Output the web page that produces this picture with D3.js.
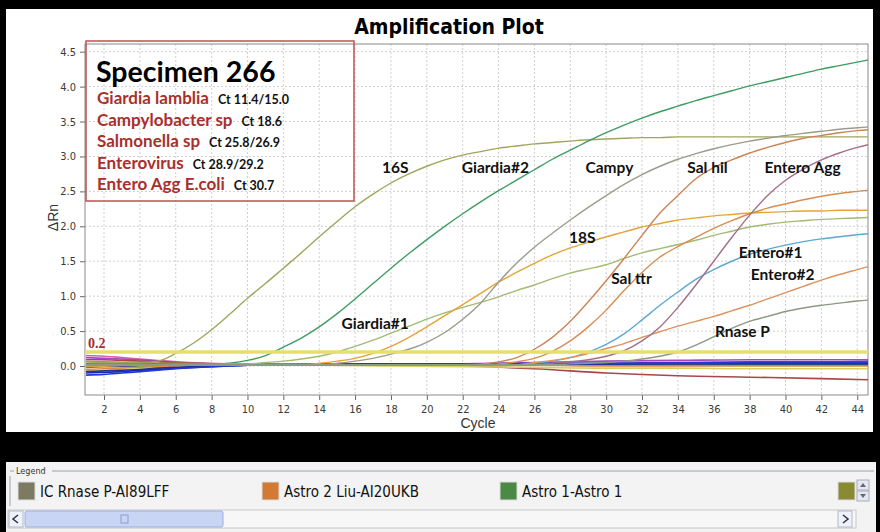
<!DOCTYPE html>
<html>
<head>
<meta charset="utf-8">
<script src="https://cdn.jsdelivr.net/npm/d3@7"></script>
<style>
  body { margin: 0; background: #000; }
  svg { display: block; }
  .tick text { font-family: "Liberation Sans Narrow", "DejaVu Sans Condensed", sans-serif; font-size: 11px; fill: #3a3a3a; }
  .tick line { stroke: #666; }
</style>
</head>
<body>
<div id="chart"></div>
<script>
// ---- data (cycle -> dRn) ----
var cycles = [1,2,3,4,5,6,7,8,9,10,11,12,13,14,15,16,17,18,19,20,21,22,23,24,25,
  26,27,28,29,30,31,32,33,34,35,36,37,38,39,40,41,42,43,44,45];

var s16S = [0.06,0.05,0.05,0.05,0.07,0.18,0.33,0.52,0.74,0.97, 1.18,1.4,1.62,1.85,2.07,2.28,2.46,2.62,2.75,2.86,
  2.95,3.02,3.07,3.12,3.15,3.18,3.2,3.22,3.24,3.25, 3.26,3.27,3.27,3.28,3.28,3.28,3.28,3.28,3.28,3.28, 3.28,3.28,3.28,3.28,3.28];
var giardia2 = [0.01,0.01,0.01,0.01,0.01,0.01,0.01,0.02,0.04,0.08, 0.15,0.27,0.4,0.56,0.75,0.96,1.18,1.4,1.61,1.81,
  2.0,2.18,2.35,2.51,2.66,2.81,2.96,3.09,3.22,3.34, 3.45,3.55,3.64,3.72,3.8,3.87,3.94,4.01,4.07,4.13, 4.19,4.25,4.3,4.35,4.4];
var giardia1 = [0.0,0.0,0.01,0.01,0.01,0.02,0.02,0.02,0.03,0.03, 0.05,0.07,0.1,0.14,0.2,0.28,0.37,0.47,0.57,0.67,
  0.76,0.84,0.91,0.99,1.08,1.16,1.25,1.33,1.39,1.45, 1.54,1.62,1.68,1.74,1.8,1.87,1.93,1.99,2.03,2.06, 2.08,2.1,2.11,2.12,2.13];
var s18S = [0.0,0.0,0.01,0.01,0.01,0.01,0.01,0.01,0.02,0.02, 0.02,0.02,0.02,0.04,0.07,0.11,0.18,0.28,0.41,0.56,
  0.72,0.88,1.04,1.2,1.34,1.47,1.59,1.69,1.77,1.85, 1.92,1.99,2.04,2.09,2.12,2.15,2.17,2.19,2.2,2.21, 2.22,2.22,2.23,2.23,2.23];
var campy = [0.01,0.01,0.01,0.01,0.01,0.01,0.01,0.01,0.01,0.01, 0.01,0.01,0.02,0.02,0.04,0.07,0.11,0.17,0.24,0.34,
  0.48,0.67,0.9,1.2,1.47,1.7,1.9,2.09,2.27,2.44, 2.6,2.74,2.86,2.96,3.04,3.11,3.17,3.22,3.26,3.3, 3.33,3.36,3.39,3.41,3.43];
var salHil = [0.01,0.01,0.01,0.01,0.01,0.01,0.01,0.01,0.01,0.01, 0.01,0.01,0.01,0.01,0.01,0.01,0.01,0.01,0.01,0.01,
  0.01,0.02,0.03,0.06,0.12,0.24,0.41,0.64,0.92,1.22, 1.54,1.87,2.19,2.44,2.68,2.84,2.95,3.05,3.13,3.2, 3.26,3.3,3.34,3.37,3.39];
var salTtr = [0.01,0.01,0.01,0.01,0.01,0.01,0.01,0.01,0.01,0.01, 0.01,0.01,0.01,0.01,0.01,0.01,0.01,0.01,0.01,0.01,
  0.01,0.01,0.02,0.03,0.06,0.11,0.21,0.36,0.56,0.8, 1.08,1.34,1.56,1.71,1.84,1.97,2.08,2.18,2.26,2.32, 2.38,2.43,2.47,2.5,2.53];
var entero1 = [0.02,0.02,0.02,0.02,0.02,0.02,0.02,0.02,0.02,0.02, 0.02,0.02,0.02,0.02,0.02,0.02,0.02,0.02,0.02,0.02,
  0.02,0.02,0.02,0.02,0.02,0.04,0.07,0.12,0.2,0.31, 0.46,0.66,0.87,1.06,1.24,1.38,1.5,1.6,1.67,1.73, 1.78,1.82,1.85,1.88,1.9];
var entero2 = [0.02,0.02,0.02,0.02,0.02,0.02,0.02,0.02,0.02,0.02, 0.02,0.02,0.02,0.02,0.02,0.02,0.02,0.02,0.02,0.02,
  0.02,0.02,0.02,0.02,0.02,0.05,0.08,0.12,0.18,0.25, 0.32,0.41,0.49,0.57,0.64,0.71,0.79,0.87,0.96,1.05, 1.14,1.23,1.31,1.38,1.45];
var enteroAgg = [0.02,0.02,0.02,0.02,0.02,0.02,0.02,0.02,0.02,0.02, 0.02,0.02,0.02,0.02,0.02,0.02,0.02,0.02,0.02,0.02,
  0.02,0.02,0.02,0.02,0.02,0.02,0.04,0.06,0.09,0.14, 0.22,0.36,0.56,0.84,1.16,1.5,1.84,2.16,2.44,2.66, 2.82,2.95,3.05,3.13,3.19];
var rnaseP = [0.02,0.02,0.02,0.02,0.02,0.02,0.02,0.02,0.02,0.02, 0.02,0.02,0.02,0.02,0.02,0.02,0.02,0.02,0.02,0.02,
  0.02,0.02,0.02,0.02,0.02,0.02,0.02,0.03,0.04,0.05, 0.07,0.1,0.14,0.2,0.3,0.42,0.54,0.64,0.71,0.78, 0.83,0.87,0.9,0.93,0.95];

var ampSeries = [s16S, giardia2, giardia1, s18S, campy, salHil, salTtr, entero1, entero2, enteroAgg, rnaseP];
var ampColors = ["#a0a65c", "#3f9d62", "#a2bb72", "#e5a436", "#9c9c8c", "#cc8455", "#d98c52",
  "#5ba9d3", "#df925e", "#a46e8a", "#8c9a80"];

// negative / flat wells, sampled at fewer cycles
var baseCycles = [1, 2, 3, 4, 5, 6, 8, 10, 14, 18, 22, 26, 30, 34, 38, 42, 45];
var baseSeries = [
  [0.15,0.14,0.12,0.1,0.08,0.06,0.04,0.03,0.02,0.02,0.02,0.02,0.03,0.03,0.03,0.03,0.03],
  [0.12,0.11,0.1,0.09,0.07,0.05,0.03,0.02,0.02,0.02,0.03,0.05,0.07,0.08,0.09,0.09,0.09],
  [0.09,0.09,0.08,0.07,0.06,0.05,0.03,0.02,0.01,0.01,0.0,-0.04,-0.1,-0.14,-0.16,-0.18,-0.2],
  [0.06,0.06,0.05,0.05,0.04,0.04,0.03,0.02,0.02,0.02,0.01,0.01,0.01,0.01,0.01,0.01,0.01],
  [0.03,0.03,0.03,0.03,0.03,0.02,0.02,0.02,0.02,0.02,0.02,0.02,0.02,0.02,0.02,0.02,0.02],
  [-0.02,-0.01,-0.01,0.0,0.0,0.01,0.01,0.02,0.02,0.02,0.02,0.02,0.02,0.02,0.02,0.02,0.02],
  [-0.05,-0.04,-0.03,-0.02,-0.01,0.0,0.01,0.01,0.02,0.02,0.01,0.01,0.0,0.0,0.0,0.0,0.0],
  [-0.07,-0.06,-0.05,-0.04,-0.03,-0.02,0.0,0.01,0.01,0.0,-0.01,-0.02,-0.03,-0.03,-0.04,-0.04,-0.04],
  [0.0,0.0,0.0,0.01,0.01,0.01,0.01,0.02,0.02,0.02,0.03,0.03,0.04,0.05,0.06,0.06,0.07],
  [-0.08,-0.07,-0.06,-0.05,-0.03,-0.02,0.0,0.01,0.02,0.02,0.03,0.03,0.03,0.03,0.03,0.03,0.03],
  [-0.1,-0.09,-0.08,-0.06,-0.05,-0.03,-0.01,0.01,0.02,0.03,0.03,0.03,0.03,0.04,0.04,0.04,0.04],
  [-0.13,-0.12,-0.1,-0.08,-0.06,-0.04,-0.01,0.01,0.02,0.03,0.03,0.04,0.04,0.04,0.05,0.05,0.05]
];
var baseColors = ["#d65fb0", "#a848c0", "#a84848", "#9a9a40", "#30a0a0", "#3a9a3a",
  "#e08a40", "#d8d060", "#6a3ab8", "#283090", "#1a2ab8", "#2238d8"];

var threshold = 0.2;
var xTicks = [2,4,6,8,10,12,14,16,18,20,22,24,26,28,30,32,34,36,38,40,42,44];
var yTicks = [0, 0.5, 1.0, 1.5, 2.0, 2.5, 3.0, 3.5, 4.0, 4.5];

var labelText = ["16S", "Giardia#2", "Campy", "Sal hil", "Entero Agg", "18S", "Sal ttr",
  "Entero#1", "Entero#2", "Giardia#1", "Rnase P"];
var labelCycle = [18.24, 23.82, 30.18, 35.65, 40.95, 28.67, 31.41, 39.17, 39.84, 17.12, 37.6];
var labelValue = [2.76, 2.76, 2.76, 2.76, 2.76, 1.76, 1.17, 1.55, 1.23, 0.53, 0.42];

var specimenTitle = "Specimen 266";
var specimenOrgs = ["Giardia lamblia", "Campylobacter sp", "Salmonella sp", "Enterovirus", "Entero Agg E.coli"];
var specimenCts = ["Ct 11.4/15.0", "Ct 18.6", "Ct 25.8/26.9", "Ct 28.9/29.2", "Ct 30.7"];

var legendNames = ["IC Rnase P-AI89LFF", "Astro 2 Liu-AI20UKB", "Astro 1-Astro 1", ""];
var legendColors = ["#7d7a62", "#d27a34", "#4a8a44", "#8a8a34"];
var legendX = [18, 262, 500, 838];

// ---- layout ----
var W = 880, H = 532;
var plotLeft = 85, plotRight = 868, plotTop = 44, plotBottom = 395;

var svg = d3.select("#chart").append("svg")
  .attr("width", W).attr("height", H);

svg.append("rect").attr("width", W).attr("height", H).attr("fill", "#000");
svg.append("rect").attr("x", 6).attr("y", 9).attr("width", 867).attr("height", 423).attr("fill", "#fff");

var x = d3.scaleLinear().domain([0.94, 44.6]).range([plotLeft, plotRight]);
var y = d3.scaleLinear().domain([-0.415, 4.61]).range([plotBottom, plotTop]);

svg.append("text")
  .attr("x", 449).attr("y", 34)
  .attr("text-anchor", "middle")
  .style("font-family", "'Liberation Sans Narrow', 'DejaVu Sans Condensed', sans-serif")
  .style("font-weight", "bold").style("font-size", "21px")
  .text("Amplification Plot");

// grid
svg.append("g").selectAll("line").data(xTicks).enter().append("line")
  .attr("x1", function(d) { return x(d); }).attr("x2", function(d) { return x(d); })
  .attr("y1", plotTop).attr("y2", plotBottom)
  .attr("stroke", "#cfcfcf").attr("stroke-dasharray", "2,2");
svg.append("g").selectAll("line").data(yTicks).enter().append("line")
  .attr("x1", plotLeft).attr("x2", plotRight)
  .attr("y1", function(d) { return y(d); }).attr("y2", function(d) { return y(d); })
  .attr("stroke", "#cfcfcf").attr("stroke-dasharray", "2,2");

// axes
svg.append("g")
  .attr("transform", "translate(" + plotLeft + ",0)")
  .call(d3.axisLeft(y).tickValues(yTicks).tickFormat(d3.format(".1f")).tickSize(5).tickPadding(4))
  .call(function(g) { g.select(".domain").remove(); });
svg.append("g")
  .attr("transform", "translate(0," + plotBottom + ")")
  .call(d3.axisBottom(x).tickValues(xTicks).tickSize(5).tickPadding(5))
  .call(function(g) { g.select(".domain").remove(); });

svg.append("rect")
  .attr("x", plotLeft).attr("y", plotTop).attr("width", plotRight - plotLeft).attr("height", plotBottom - plotTop)
  .attr("fill", "none").attr("stroke", "#8a8a8a");

svg.append("text")
  .attr("transform", "translate(58," + ((plotTop + plotBottom) / 2 - 2) + ") rotate(-90)")
  .attr("text-anchor", "middle")
  .style("font-family", "'Liberation Sans', sans-serif").style("font-size", "14px").style("fill", "#333")
  .text("ΔRn");
svg.append("text")
  .attr("x", 478).attr("y", 428).attr("text-anchor", "middle")
  .style("font-family", "'Liberation Sans', sans-serif").style("font-size", "14px").style("fill", "#333")
  .text("Cycle");

// curves
svg.append("clipPath").attr("id", "plotclip").append("rect")
  .attr("x", plotLeft).attr("y", plotTop).attr("width", plotRight - plotLeft).attr("height", plotBottom - plotTop);
var plot = svg.append("g").attr("clip-path", "url(#plotclip)");

var baseLine = d3.line()
  .x(function(d, i) { return x(baseCycles[i]); })
  .y(function(d) { return y(d); })
  .curve(d3.curveMonotoneX);
plot.selectAll(".base").data(baseSeries).enter().append("path")
  .attr("class", "base")
  .attr("d", baseLine)
  .attr("fill", "none")
  .attr("stroke", function(d, i) { return baseColors[i]; })
  .attr("stroke-width", 1.6);

var ampLine = d3.line()
  .x(function(d, i) { return x(cycles[i]); })
  .y(function(d) { return y(d); })
  .curve(d3.curveMonotoneX);
plot.selectAll(".amp").data(ampSeries).enter().append("path")
  .attr("class", "amp")
  .attr("d", ampLine)
  .attr("fill", "none")
  .attr("stroke", function(d, i) { return ampColors[i]; })
  .attr("stroke-width", 1.4);

// threshold
plot.append("line")
  .attr("x1", plotLeft).attr("x2", plotRight)
  .attr("y1", y(threshold)).attr("y2", y(threshold))
  .attr("stroke", "#e6df6c").attr("stroke-width", 3.5);
svg.append("text")
  .attr("x", plotLeft + 3).attr("y", y(threshold) - 4)
  .style("font-family", "'Liberation Serif', serif").style("font-weight", "bold")
  .style("font-size", "14px").style("fill", "#a2302c")
  .text("0.2");

// curve labels
svg.append("g").selectAll("text").data(labelText).enter().append("text")
  .attr("x", function(d, i) { return x(labelCycle[i]); })
  .attr("y", function(d, i) { return y(labelValue[i]); })
  .attr("text-anchor", "middle")
  .style("font-family", "Lato, sans-serif").style("font-weight", "bold").style("font-size", "15.5px")
  .style("fill", "#111")
  .text(function(d) { return d; });

// specimen box
svg.append("rect")
  .attr("x", 86).attr("y", 41).attr("width", 268).attr("height", 160)
  .attr("fill", "none").attr("stroke", "#c0504d").attr("stroke-width", 1.5);
svg.append("text")
  .attr("x", 96).attr("y", 82)
  .style("font-family", "Lato, sans-serif").style("font-weight", "bold").style("font-size", "28.5px")
  .style("fill", "#000")
  .text(specimenTitle);
var rows = svg.append("g").selectAll("text").data(specimenOrgs).enter().append("text")
  .attr("x", 97)
  .attr("y", function(d, i) { return 104 + i * 21.6; })
  .style("font-family", "Lato, sans-serif").style("font-weight", "bold");
rows.append("tspan")
  .style("font-size", "17px").style("fill", "#a8302c")
  .text(function(d) { return d; });
rows.append("tspan")
  .attr("dx", 9)
  .style("font-size", "12.5px").style("fill", "#111")
  .text(function(d, i) { return specimenCts[i]; });

// ---- legend panel ----
svg.append("rect").attr("x", 6).attr("y", 462).attr("width", 870).attr("height", 70).attr("fill", "#f3f3f3");
svg.append("path")
  .attr("d", "M10,476 V506 M10,471 H14 M52,471 H874")
  .attr("fill", "none").attr("stroke", "#9aa0ad");
svg.append("text")
  .attr("x", 16).attr("y", 474)
  .style("font-family", "'DejaVu Sans Condensed', sans-serif").style("font-size", "9px").style("fill", "#333")
  .text("Legend");

var leg = svg.append("g").selectAll("g").data(legendNames).enter().append("g")
  .attr("transform", function(d, i) { return "translate(" + legendX[i] + ",482)"; });
leg.append("rect")
  .attr("width", 17).attr("height", 18)
  .attr("fill", function(d, i) { return legendColors[i]; })
  .attr("stroke", "#ddd");
leg.append("text")
  .attr("x", 22).attr("y", 15)
  .style("font-family", "'DejaVu Sans Condensed', sans-serif").style("font-size", "15px").style("fill", "#111")
  .text(function(d) { return d; });

// little vertical scroll buttons
svg.append("rect").attr("x", 857).attr("y", 480).attr("width", 12).attr("height", 10).attr("fill", "#e4e8f0").attr("stroke", "#aab");
svg.append("rect").attr("x", 857).attr("y", 491).attr("width", 12).attr("height", 10).attr("fill", "#e4e8f0").attr("stroke", "#aab");
svg.append("path").attr("d", "M860,487 L863,483 L866,487 Z M860,494 L863,498 L866,494 Z").attr("fill", "#667");

// horizontal scrollbar
svg.append("rect").attr("x", 8).attr("y", 510).attr("width", 848).attr("height", 18).attr("fill", "#f7f7f7").attr("stroke", "#c8c8c8");
svg.append("rect").attr("x", 9).attr("y", 511).attr("width", 14).attr("height", 16).attr("fill", "#eef2fa").attr("stroke", "#b0b8c8");
svg.append("rect").attr("x", 838).attr("y", 511).attr("width", 14).attr("height", 16).attr("fill", "#eef2fa").attr("stroke", "#b0b8c8");
svg.append("rect").attr("x", 25).attr("y", 511).attr("width", 198).attr("height", 16).attr("rx", 2)
  .attr("fill", "#c9d5f5").attr("stroke", "#9eaee0");
svg.append("rect").attr("x", 121).attr("y", 515).attr("width", 7).attr("height", 8).attr("fill", "none").attr("stroke", "#8e9ed0");
svg.append("path").attr("d", "M18,515 L13,519 L18,523 M843,515 L848,519 L843,523")
  .attr("fill", "none").attr("stroke", "#334").attr("stroke-width", 1.6);
</script>
</body>
</html>
